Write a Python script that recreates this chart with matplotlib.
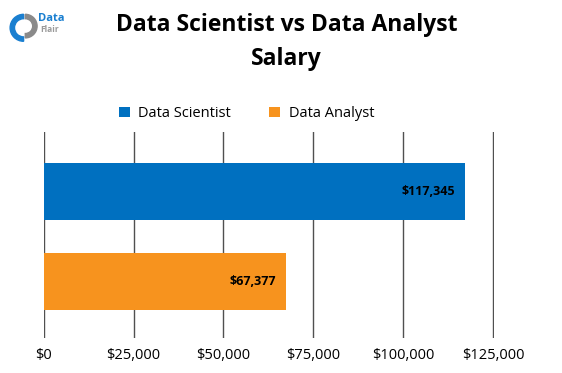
import matplotlib.pyplot as plt
from matplotlib.patches import Wedge

roles = ['Data Scientist', 'Data Analyst']
salaries = [117345, 67377]
colors = ['#0070C0', '#F7931E']
ticks = [0, 25000, 50000, 75000, 100000, 125000]
tick_labels = ['$0', '$25,000', '$50,000', '$75,000', '$100,000', '$125,000']

plt.rcParams['font.family'] = ['Open Sans', 'DejaVu Sans']

fig = plt.figure(figsize=(5.62, 3.73), dpi=100)
ax = fig.add_axes([0.078, 0.094, 0.801, 0.552])

for i, (r, v, c) in enumerate(zip(roles, salaries, colors)):
    ax.barh(i, v, height=0.633, color=c, label=r, zorder=2)
    ax.text(v - 2800, i, '${:,}'.format(v), ha='right', va='center',
            fontsize=9, fontweight='bold', color='black', zorder=3)

ax.set_xlim(0, 125300)
ax.set_ylim(1.63, -0.66)
ax.set_xticks(ticks)
ax.set_xticklabels(tick_labels, fontsize=10.5)
ax.set_yticks([])
ax.tick_params(axis='x', length=0, pad=7)
ax.grid(axis='x', color='#505050', linewidth=1, zorder=1)
for s in ax.spines.values():
    s.set_visible(False)

fig.text(0.51, 0.965, 'Data Scientist vs Data Analyst\nSalary', ha='center', va='top',
         fontsize=16.5, fontweight='bold', linespacing=1.55)

leg = ax.legend(loc='lower center', bbox_to_anchor=(0.45, 0.99), ncol=2, frameon=False,
                fontsize=10.5, handlelength=0.75, handleheight=0.75, columnspacing=2.6,
                handletextpad=0.6)

# small logo in the corner
logo = fig.add_axes([0.015, 0.88, 0.06, 0.1])
logo.set_xlim(0, 1)
logo.set_ylim(0, 1)
logo.set_aspect('equal')
logo.axis('off')
logo.add_patch(Wedge((0.45, 0.45), 0.4, 90, 270, width=0.13, color='#1a7fd0'))
logo.add_patch(Wedge((0.5, 0.5), 0.35, -90, 90, width=0.13, color='#8a8a8a'))
fig.text(0.068, 0.945, 'Data', fontsize=8, fontweight='bold', color='#1a7fd0')
fig.text(0.072, 0.915, 'Flair', fontsize=6, fontweight='bold', color='#9a9a9a')

fig.savefig('out.png', dpi=100)
